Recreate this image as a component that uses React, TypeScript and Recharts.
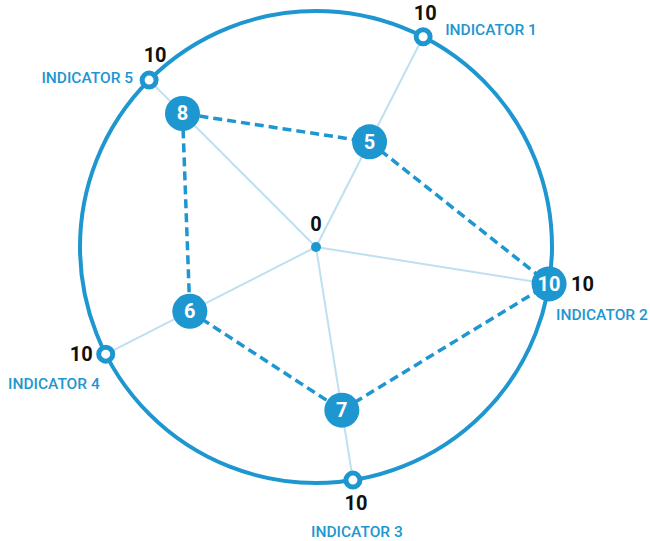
import { RadarChart, Radar, PolarGrid, PolarAngleAxis, PolarRadiusAxis } from "recharts";

const indicators = ["INDICATOR 1", "INDICATOR 2", "INDICATOR 3", "INDICATOR 4", "INDICATOR 5"];
const values = [5, 10, 7, 6, 8];
const maxValues = [10, 10, 10, 10, 10];
const radiusTicks = [0];

const BLUE = "#1e96d0";
const LIGHT = "#bfe0f0";
const FONT = "Roboto, 'Noto Sans', sans-serif";

// where the texts sit around each outer marker
const namePos = [
  { dx: 22, dy: -1.5, anchor: "start" },
  { dx: 7, dy: 36.5, anchor: "start" },
  { dx: 4, dy: 56.5, anchor: "middle" },
  { dx: -6, dy: 34.5, anchor: "end" },
  { dx: -16, dy: 2.5, anchor: "end" },
];
const maxPos = [
  { dx: 2, dy: -17, anchor: "middle" },
  { dx: 22, dy: 7, anchor: "start" },
  { dx: 3, dy: 30, anchor: "middle" },
  { dx: -13, dy: 7, anchor: "end" },
  { dx: 6, dy: -18, anchor: "middle" },
];

const data = indicators.map((name, i) => ({ name, value: values[i], max: maxValues[i] }));

function NameTick(props: any) {
  const { x, y, index, payload, cx, cy, radius } = props;
  // tick comes a bit outside the circle; bring it back onto the marker
  let mx = x;
  let my = y;
  if (cx != null && cy != null && radius) {
    const ux = x - cx;
    const uy = y - cy;
    const len = Math.sqrt(ux * ux + uy * uy) || 1;
    mx = cx + (ux / len) * radius;
    my = cy + (uy / len) * radius;
  }
  const p = namePos[index];
  return (
    <text x={mx + p.dx} y={my + p.dy} textAnchor={p.anchor} fill={BLUE} fontSize={15.5} fontWeight={500} fontFamily={FONT}>
      {payload.value}
    </text>
  );
}

function CenterTick(props: any) {
  const { x, y, payload } = props;
  return (
    <g>
      <circle cx={x} cy={y} r={5} fill={BLUE} />
      <text x={x} y={y - 16} textAnchor="middle" fill="#111" fontSize={20} fontWeight={700} fontFamily={FONT}>
        {payload.value}
      </text>
    </g>
  );
}

function ValueDot(props: any) {
  const { cx, cy, payload } = props;
  const v = payload?.payload?.value ?? payload?.value;
  return (
    <g>
      <circle cx={cx} cy={cy} r={17.5} fill={BLUE} />
      <text x={cx} y={cy + 7} textAnchor="middle" fill="#fff" fontSize={20} fontWeight={700} fontFamily={FONT}>
        {v}
      </text>
    </g>
  );
}

function MaxDot(props: any) {
  const { cx, cy, index, payload } = props;
  const p = maxPos[index];
  const v = payload?.payload?.max ?? payload?.max;
  return (
    <g>
      <circle cx={cx} cy={cy} r={7} fill="#fff" stroke={BLUE} strokeWidth={5} />
      <text x={cx + p.dx} y={cy + p.dy} textAnchor={p.anchor} fill="#111" fontSize={20} fontWeight={700} fontFamily={FONT}>
        {v}
      </text>
    </g>
  );
}

export default function App() {
  return (
    <div style={{ position: "absolute", left: 0, top: 0, background: "#fff" }}>
      <RadarChart
        width={650}
        height={541}
        data={data}
        cx={316}
        cy={247}
        outerRadius={236}
        startAngle={63}
        endAngle={-297}
        margin={{ top: 0, right: 0, bottom: 0, left: 0 }}
      >
        <PolarGrid gridType="circle" polarRadius={[0]} stroke={LIGHT} strokeWidth={2} />
        <PolarGrid gridType="circle" polarRadius={[236]} radialLines={false} stroke={BLUE} strokeWidth={4} />
        <PolarAngleAxis dataKey="name" tick={NameTick} tickLine={false} axisLine={false} tickSize={0} />
        <PolarRadiusAxis domain={[0, 10]} ticks={radiusTicks as any} angle={90} tick={CenterTick} axisLine={false} tickLine={false} />
        <Radar dataKey="max" stroke="none" fill="none" dot={MaxDot} isAnimationActive={false} />
        <Radar
          dataKey="value"
          stroke={BLUE}
          strokeWidth={3.5}
          strokeDasharray="9 5"
          fill="none"
          fillOpacity={0}
          dot={ValueDot}
          isAnimationActive={false}
        />
      </RadarChart>
    </div>
  );
}
